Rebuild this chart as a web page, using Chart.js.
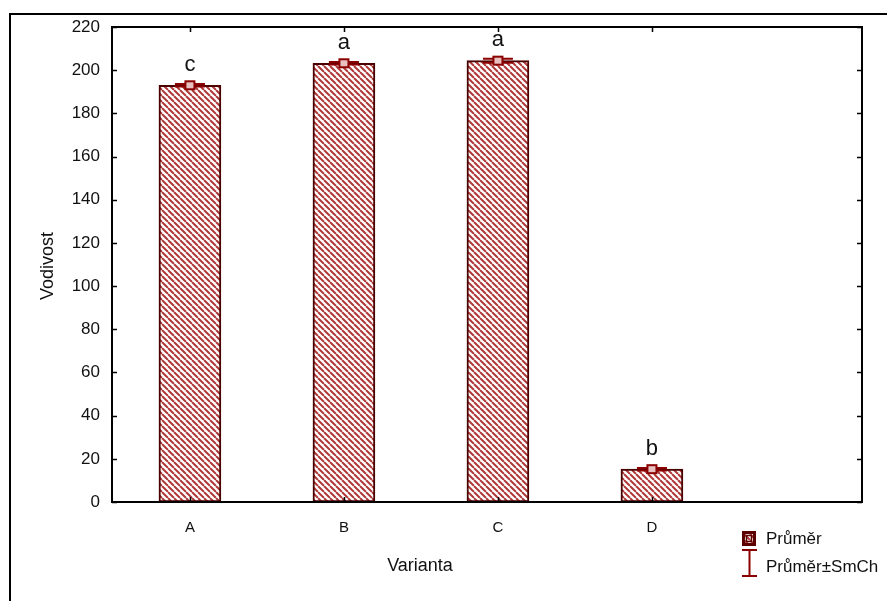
<!DOCTYPE html>
<html>
<head>
<meta charset="utf-8">
<script src="https://cdn.jsdelivr.net/npm/chart.js@4/dist/chart.umd.min.js"></script>
<style>
  html, body { margin: 0; padding: 0; background: #fff; }
</style>
</head>
<body>
<canvas id="chart" width="887" height="601"></canvas>
<script>
// data
const categories = ['A', 'B', 'C', 'D'];
const means = [193, 203.2, 204.4, 15.2];
const stdErrors = [0.6, 0.6, 0.9, 0.6];
const letters = ['c', 'a', 'a', 'b'];
const yTickValues = [0, 20, 40, 60, 80, 100, 120, 140, 160, 180, 200, 220];
const legendLabels = ['Průměr', 'Průměr±SmCh'];

const FONT = '"Liberation Sans", Arial, sans-serif';
const DARK_RED = '#8b0000';
const BORDER_RED = '#4a0000';

function makeHatch(size) {
  const c = document.createElement('canvas');
  c.width = size; c.height = size;
  const g = c.getContext('2d');
  g.fillStyle = '#fff';
  g.fillRect(0, 0, size, size);
  g.strokeStyle = '#b03a3a';
  g.lineWidth = 2;
  g.beginPath();
  for (let k = -size; k <= size; k += size) {
    g.moveTo(k, 0);
    g.lineTo(k + size, size);
  }
  g.stroke();
  return g.createPattern(c, 'repeat');
}

const hatch = makeHatch(6);

// frame, inward ticks, error bars, letters, titles and legend
const decorations = {
  id: 'decorations',
  afterDatasetsDraw(chart) {
    const ctx = chart.ctx;
    const a = chart.chartArea;
    const xs = chart.scales.x, ys = chart.scales.y;
    ctx.save();

    // outer frame (left and top only, it runs off the page)
    ctx.strokeStyle = '#000';
    ctx.lineWidth = 2;
    ctx.beginPath();
    ctx.moveTo(10, 601);
    ctx.lineTo(10, 14);
    ctx.lineTo(887, 14);
    ctx.stroke();

    // plot frame
    ctx.strokeRect(a.left, a.top, a.right - a.left, a.bottom - a.top);

    // inward ticks
    ctx.lineWidth = 1.5;
    ctx.beginPath();
    yTickValues.forEach(v => {
      const y = Math.round(ys.getPixelForValue(v)) + 0.5;
      ctx.moveTo(a.left, y); ctx.lineTo(a.left + 5, y);
      ctx.moveTo(a.right, y); ctx.lineTo(a.right - 5, y);
    });
    categories.forEach((c, i) => {
      const x = Math.round(xs.getPixelForValue(i + 1)) + 0.5;
      ctx.moveTo(x, a.bottom); ctx.lineTo(x, a.bottom - 5);
      ctx.moveTo(x, a.top); ctx.lineTo(x, a.top + 5);
    });
    ctx.stroke();

    // error bars and means
    means.forEach((m, i) => {
      const x = xs.getPixelForValue(i + 1);
      const yTop = ys.getPixelForValue(m + stdErrors[i]);
      const yBot = ys.getPixelForValue(m - stdErrors[i]);
      const yMid = ys.getPixelForValue(m);
      ctx.strokeStyle = DARK_RED;
      ctx.lineWidth = 2;
      ctx.beginPath();
      ctx.moveTo(x - 15, yTop); ctx.lineTo(x + 15, yTop);
      ctx.moveTo(x - 15, yBot); ctx.lineTo(x + 15, yBot);
      ctx.moveTo(x, yTop); ctx.lineTo(x, yBot);
      ctx.stroke();
      ctx.fillStyle = '#e8c0c0';
      ctx.fillRect(x - 4.5, yMid - 4, 9, 8);
      ctx.strokeRect(x - 4.5, yMid - 4, 9, 8);

      ctx.fillStyle = '#111';
      ctx.font = '22px ' + FONT;
      ctx.textAlign = 'center';
      ctx.textBaseline = 'alphabetic';
      ctx.fillText(letters[i], x, yTop - 13);
    });

    // axis titles
    ctx.fillStyle = '#111';
    ctx.font = '18px ' + FONT;
    ctx.textAlign = 'center';
    ctx.textBaseline = 'middle';
    ctx.fillText('Varianta', 420, 566);
    ctx.save();
    ctx.translate(48, 266);
    ctx.rotate(-Math.PI / 2);
    ctx.fillText('Vodivost', 0, 0);
    ctx.restore();

    // legend
    ctx.fillStyle = '#5a0000';
    ctx.fillRect(742, 531, 14, 15);
    ctx.fillStyle = hatch;
    ctx.fillRect(745, 534, 8, 9);
    ctx.strokeStyle = '#5a0000';
    ctx.lineWidth = 1.5;
    ctx.strokeRect(746.5, 535.5, 5, 6);

    ctx.strokeStyle = DARK_RED;
    ctx.lineWidth = 2;
    ctx.beginPath();
    ctx.moveTo(742, 550); ctx.lineTo(757, 550);
    ctx.moveTo(749.5, 550); ctx.lineTo(749.5, 576);
    ctx.moveTo(742, 576); ctx.lineTo(757, 576);
    ctx.stroke();

    ctx.fillStyle = '#111';
    ctx.font = '17px ' + FONT;
    ctx.textAlign = 'left';
    ctx.fillText(legendLabels[0], 766, 539);
    ctx.fillText(legendLabels[1], 766, 567);

    ctx.restore();
  }
};

new Chart(document.getElementById('chart'), {
  type: 'bar',
  data: {
    datasets: [{
      label: legendLabels[0],
      data: means.map((m, i) => ({ x: i + 1, y: m })),
      backgroundColor: hatch,
      borderColor: BORDER_RED,
      borderWidth: 2,
      borderSkipped: false,
      barThickness: 62
    }]
  },
  options: {
    responsive: false,
    animation: false,
    layout: { padding: { top: 27, right: 25, left: 0, bottom: 0 } },
    plugins: { legend: { display: false }, tooltip: { enabled: false } },
    scales: {
      x: {
        type: 'linear',
        offset: false,
        min: 0.494,
        max: 5.364,
        afterBuildTicks: s => { s.ticks = categories.map((c, i) => ({ value: i + 1 })); },
        afterFit: s => { s.height = 99; },
        grid: { display: false },
        border: { display: false },
        ticks: {
          padding: 9,
          color: '#111',
          font: { family: FONT, size: 15 },
          callback: v => categories[v - 1]
        }
      },
      y: {
        min: 0,
        max: 220,
        afterBuildTicks: s => { s.ticks = yTickValues.map(v => ({ value: v })); },
        afterFit: s => { s.width = 112; },
        grid: { display: false },
        border: { display: false },
        ticks: {
          padding: 4,
          color: '#111',
          font: { family: FONT, size: 17 }
        }
      }
    }
  },
  plugins: [decorations]
});
</script>
</body>
</html>
